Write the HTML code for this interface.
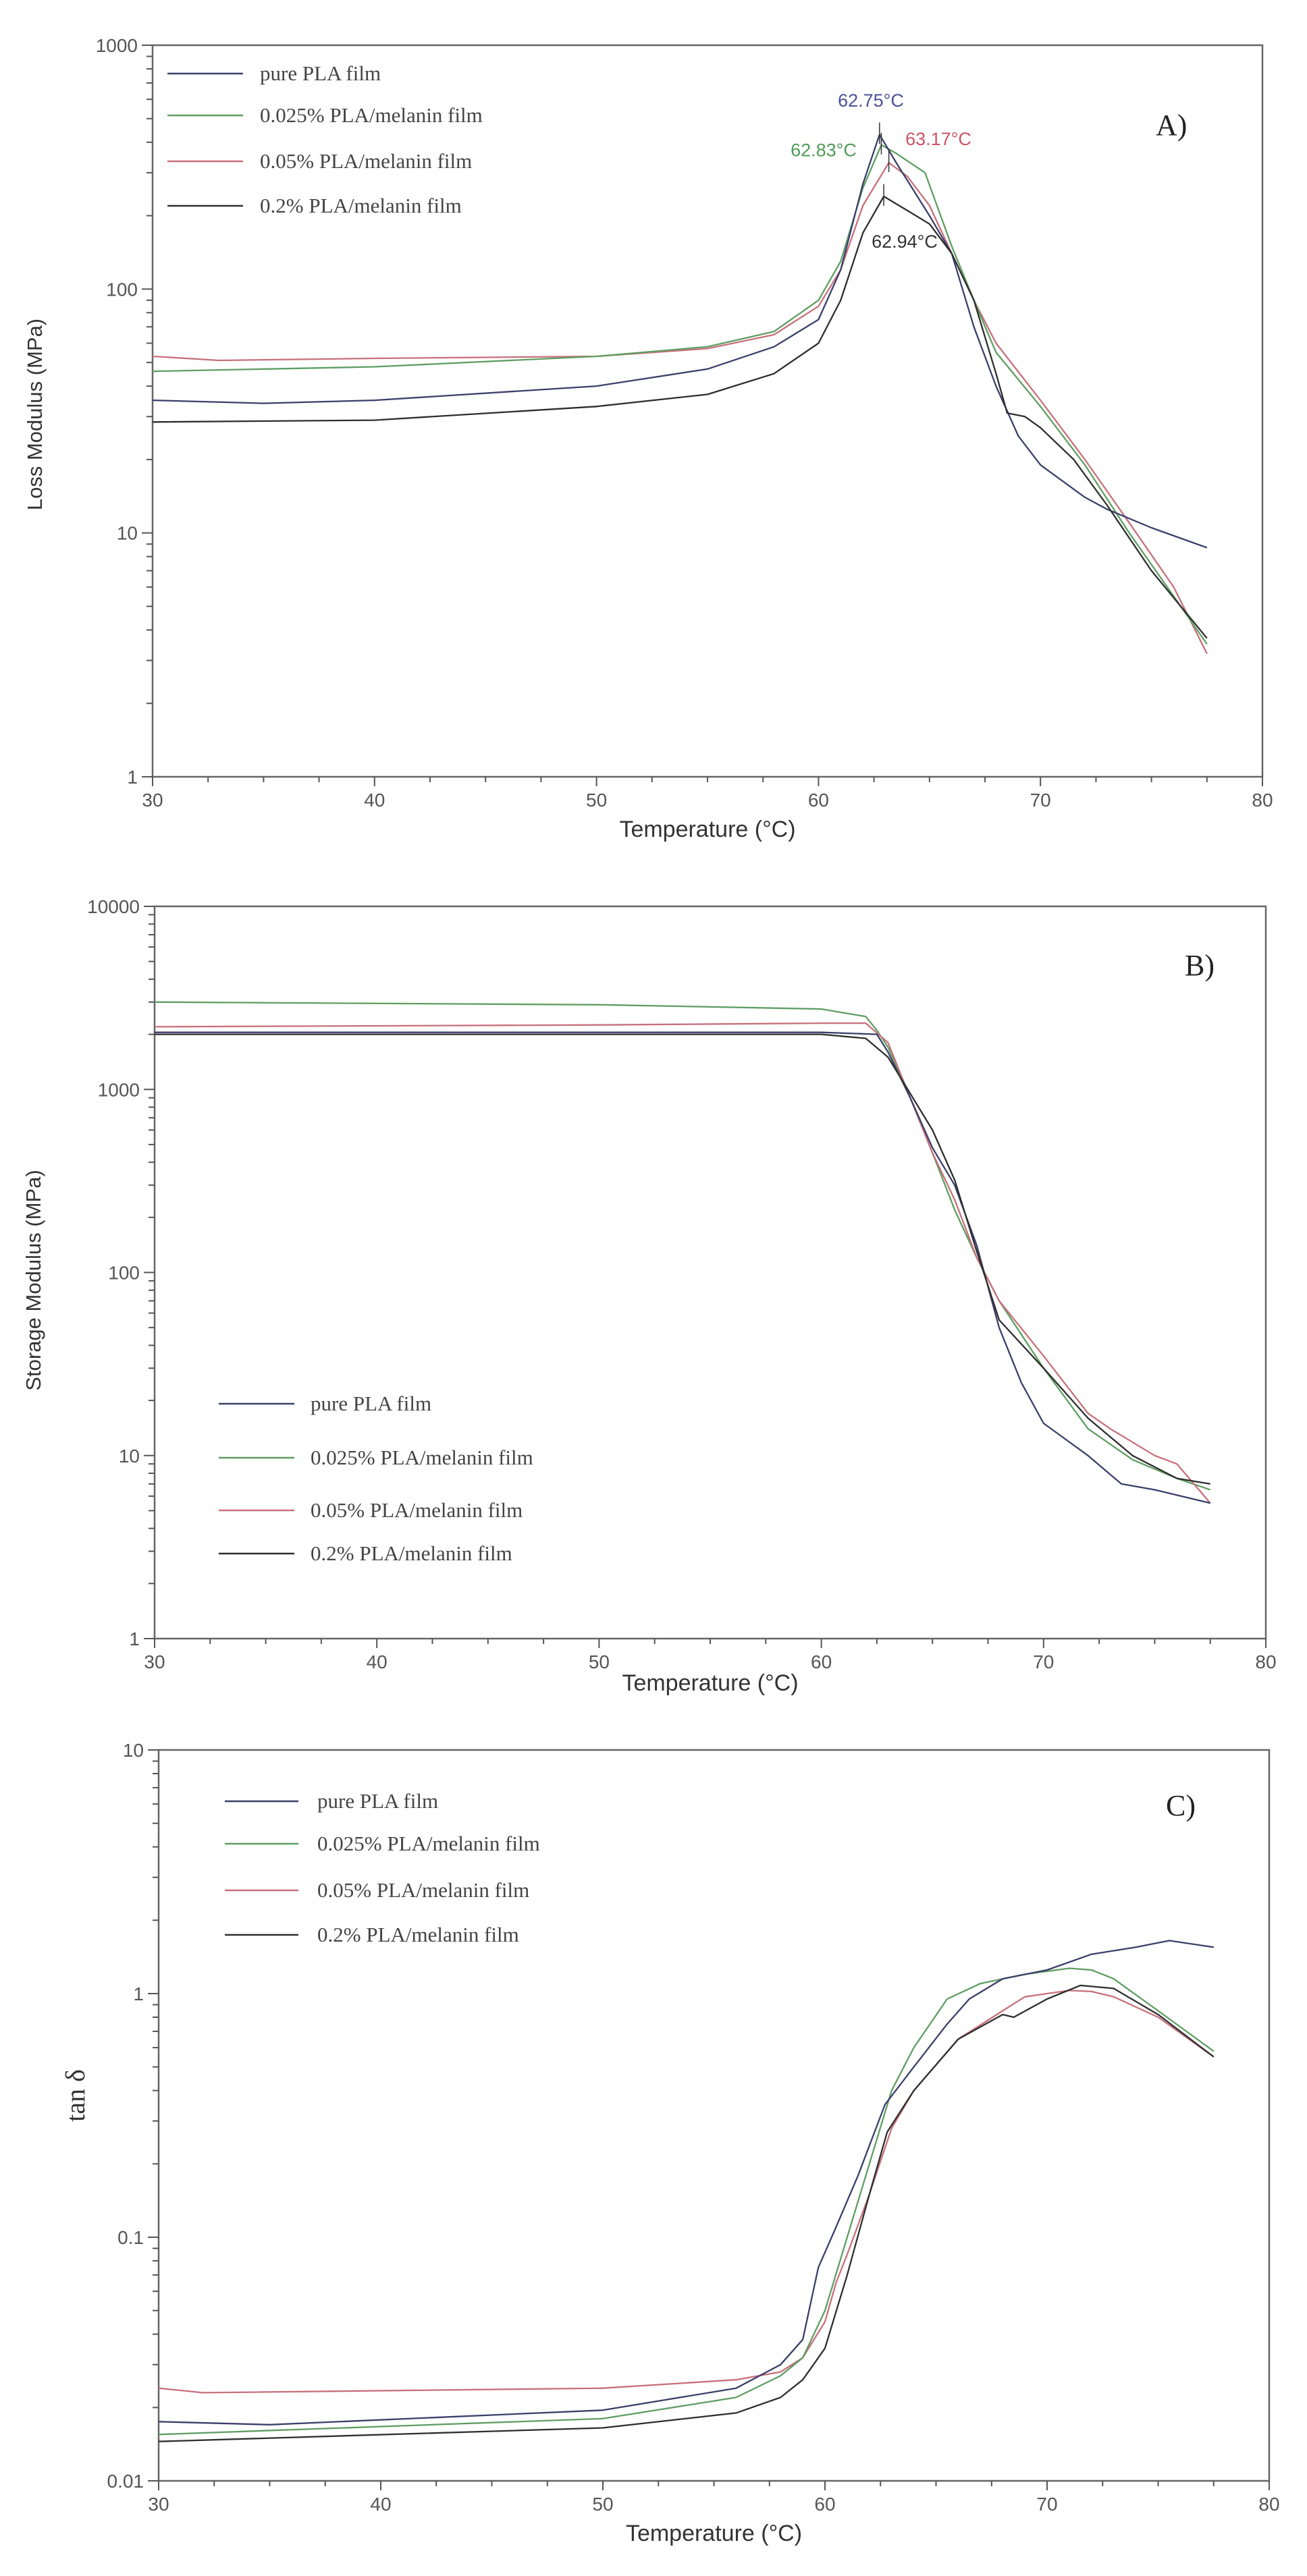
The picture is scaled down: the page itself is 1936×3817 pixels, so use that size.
<!DOCTYPE html>
<html><head><meta charset="utf-8"><style>
html,body{margin:0;padding:0;background:#fff;}
svg{display:block;}
</style></head><body>
<svg id="s" width="1936" height="3817" xmlns="http://www.w3.org/2000/svg"></svg>
<script>
const S=document.getElementById('s');
const NS='http://www.w3.org/2000/svg';
function el(t,a,txt){const e=document.createElementNS(NS,t);for(const k in a)e.setAttribute(k,a[k]);if(txt!==undefined)e.textContent=txt;S.appendChild(e);return e;}
const C={pure:'#3b3f6a',g:'#5e9e62',r:'#c7707c',b:'#2e2e2e'};
function chart(o){
 const {x0,x1,y0,y1,lmin,lmax}=o;
 const X=t=>x0+(t-30)/50*(x1-x0);
 const Y=v=>y1-(Math.log10(v)-lmin)/(lmax-lmin)*(y1-y0);
 o.X=X;o.Y=Y;
 el('rect',{x:x0,y:y0,width:x1-x0,height:y1-y0,fill:'none',stroke:'#666','stroke-width':2.5});
 for(let t=30;t<=80;t+=2.5){const maj=(t%10===0);el('line',{x1:X(t),x2:X(t),y1:y1,y2:y1+(maj?14:8),stroke:'#555','stroke-width':2});
  if(maj)el('text',{x:X(t),y:y1+44,'text-anchor':'middle','font-family':'Liberation Sans, sans-serif','font-size':28,fill:'#555'},String(t));}
 for(let d=lmin;d<=lmax;d++){
  el('line',{x1:x0-16,x2:x0,y1:Y(Math.pow(10,d)),y2:Y(Math.pow(10,d)),stroke:'#555','stroke-width':2});
  el('text',{x:x0-22,y:Y(Math.pow(10,d))+10,'text-anchor':'end','font-family':'Liberation Sans, sans-serif','font-size':28,fill:'#555'},o.lab[d-lmin]);
  if(d<lmax)for(let m=2;m<=9;m++){const yy=Y(m*Math.pow(10,d));el('line',{x1:x0-9,x2:x0,y1:yy,y2:yy,stroke:'#555','stroke-width':2});}
 }
 el('text',{x:(x0+x1)/2,y:o.ty,'text-anchor':'middle','font-family':'Liberation Sans, sans-serif','font-size':34,fill:'#333'},'Temperature (°C)');
 const yc=o.yc;
 el('text',{x:o.yx,y:yc,'text-anchor':'middle','font-family':o.yserif?'Liberation Serif, serif':'Liberation Sans, sans-serif','font-size':o.yfs,fill:'#333',transform:`rotate(-90 ${o.yx} ${yc})`},o.ytitle);
 for(const s of o.series){
  el('polyline',{points:s.d.map(p=>X(p[0]).toFixed(1)+','+Y(p[1]).toFixed(1)).join(' '),fill:'none',stroke:C[s.c],'stroke-width':2.3,'stroke-linejoin':'round'});
 }
 const names=['pure PLA film','0.025% PLA/melanin film','0.05% PLA/melanin film','0.2% PLA/melanin film'];
 const cols=['pure','g','r','b'];
 o.leg.ys.forEach((ly,i)=>{el('line',{x1:o.leg.lx0,x2:o.leg.lx1,y1:ly,y2:ly,stroke:C[cols[i]],'stroke-width':2.5});
  el('text',{x:o.leg.tx,y:ly+10,'font-family':'Liberation Serif, serif','font-size':31,fill:'#444'},names[i]);});
 el('text',{x:o.pl[0],y:o.pl[1],'font-family':'Liberation Serif, serif','font-size':44,fill:'#222'},o.pl[2]);
}
const A={x0:226,x1:1870,y0:67,y1:1151,lmin:0,lmax:3,lab:['1','10','100','1000'],ty:1240,yx:62,yc:614,yfs:31,ytitle:'Loss Modulus (MPa)',
 leg:{ys:[109,171,239,305],lx0:248,lx1:360,tx:385},pl:[1712,200,'A)'],
 series:[
 {c:'r',d:[[30,53],[33,51],[40,52],[50,53],[55,57],[58,65],[60,85],[61,120],[62,220],[63.17,330],[64,290],[65,220],[66,140],[67,90],[68,60],[70,35],[72,20],[74,11],[76,6],[77.5,3.2]]},
 {c:'g',d:[[30,46],[40,48],[50,53],[55,58],[58,67],[60,90],[61,130],[62,260],[62.83,390],[63.5,360],[64.8,300],[66,150],[67,90],[68,55],[70,33],[72,19],[74,10],[76,5.5],[77.5,3.5]]},
 {c:'pure',d:[[30,35],[35,34],[40,35],[50,40],[55,47],[58,58],[60,75],[61,120],[62,270],[62.75,430],[63.5,330],[65,200],[66,140],[67,70],[68,40],[69,25],[70,19],[72,14],[73,12.5],[75,10.5],[77.5,8.7]]},
 {c:'b',d:[[30,28.5],[40,29],[50,33],[55,37],[58,45],[60,60],[61,90],[62,170],[62.94,240],[64,210],[65,185],[66,140],[67,90],[68,45],[68.5,31],[69.3,30],[70,27],[71.5,20],[73,13],[75,7],[77.5,3.7]]}
 ]};
chart(A);
[['62.75°C',1290,A.Y(560),'#4b4f9a'],['62.83°C',1220,A.Y(350),'#4f9a55'],['63.17°C',1390,A.Y(390),'#cc5566'],['62.94°C',1340,A.Y(148),'#333']].forEach(a=>{
 el('text',{x:a[1],y:a[2],'text-anchor':'middle','font-family':'Liberation Sans, sans-serif','font-size':27,fill:a[3]},a[0]);});
[[62.75,430],[62.83,390],[63.17,330],[62.94,240]].forEach(p=>{el('line',{x1:A.X(p[0]),x2:A.X(p[0]),y1:A.Y(p[1])-18,y2:A.Y(p[1])+14,stroke:'#333','stroke-width':1.5});});
const B={x0:229,x1:1875,y0:1343,y1:2428,lmin:0,lmax:4,lab:['1','10','100','1000','10000'],ty:2505,yx:60,yc:1897,yfs:31,ytitle:'Storage Modulus (MPa)',
 leg:{ys:[2080,2160,2238,2302],lx0:324,lx1:436,tx:460},pl:[1755,1445,'B)'],
 series:[
 {c:'g',d:[[30,3000],[50,2900],[60,2750],[62,2500],[62.5,2100],[63,1700],[64,900],[65,450],[66,220],[67,120],[68,70],[70,30],[72,14],[74,9.5],[76,7.5],[77.5,6.5]]},
 {c:'r',d:[[30,2200],[50,2250],[60,2300],[62,2300],[63,1800],[64,900],[65,450],[66,250],[67,120],[68,70],[70,35],[72,17],[73,14],[75,10],[76,9],[77.5,5.5]]},
 {c:'pure',d:[[30,2050],[60,2050],[62.5,2000],[63,1600],[64,900],[65,480],[66,300],[67,140],[68,50],[69,25],[70,15],[72,10],[73.5,7],[75,6.5],[77.5,5.5]]},
 {c:'b',d:[[30,2000],[60,2000],[62,1900],[63,1500],[64,950],[65,600],[66,320],[67,130],[68,55],[70,30],[72,16],[74,10],[76,7.5],[77.5,7]]}
 ]};
chart(B);
const Cc={x0:235,x1:1880,y0:2593,y1:3676,lmin:-2,lmax:1,lab:['0.01','0.1','1','10'],ty:3765,yx:125,yc:3105,yfs:40,yserif:true,ytitle:'tan δ',
 leg:{ys:[2669,2732,2801,2867],lx0:333,lx1:442,tx:470},pl:[1727,2690,'C)'],
 series:[
 {c:'r',d:[[30,0.024],[32,0.023],[50,0.024],[56,0.026],[58,0.028],[59,0.032],[60,0.045],[60.5,0.065],[61,0.085],[62,0.15],[63,0.28],[64,0.4],[66,0.65],[68,0.85],[69,0.97],[70,1.0],[71,1.03],[72,1.02],[73,0.97],[75,0.8],[77.5,0.55]]},
 {c:'g',d:[[30,0.0155],[50,0.018],[56,0.022],[58,0.027],[59,0.032],[60,0.05],[61,0.1],[62,0.2],[63,0.4],[64,0.6],[65.5,0.95],[67,1.1],[69,1.2],[71,1.27],[72,1.25],[73,1.15],[75,0.85],[77.5,0.58]]},
 {c:'pure',d:[[30,0.0175],[35,0.017],[50,0.0195],[56,0.024],[58,0.03],[59,0.038],[59.7,0.075],[60.5,0.11],[61.5,0.18],[62.7,0.35],[64,0.5],[65.5,0.75],[66.5,0.95],[68,1.15],[70,1.25],[72,1.45],[74,1.55],[75.5,1.65],[77.5,1.55]]},
 {c:'b',d:[[30,0.0145],[50,0.0165],[56,0.019],[58,0.022],[59,0.026],[60,0.035],[61,0.07],[62,0.15],[62.8,0.27],[64,0.4],[66,0.65],[68,0.82],[68.5,0.8],[70,0.95],[71.5,1.08],[73,1.05],[75,0.82],[77.5,0.55]]}
 ]};
chart(Cc);
</script>
</body></html>
